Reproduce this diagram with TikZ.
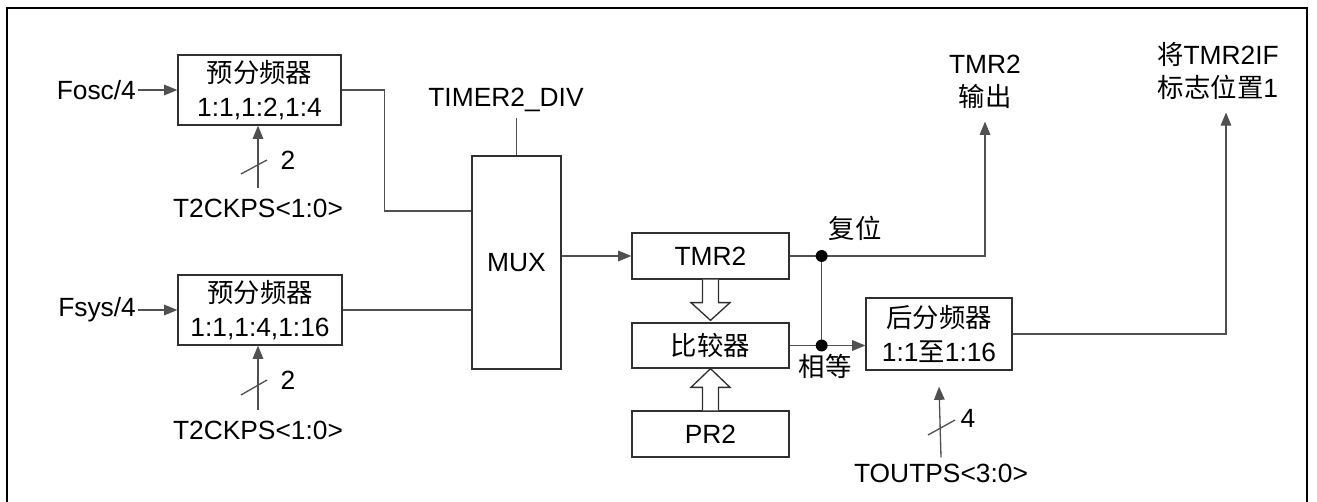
\documentclass[tikz,border=0pt]{standalone}
\usepackage{fontspec}
\setmainfont{Liberation Sans}
\newfontfamily\cjk{Noto Sans CJK SC}
\usetikzlibrary{arrows.meta,calc}
\definecolor{WireGray}{HTML}{505050}
\definecolor{BoxGray}{HTML}{303030}
\newcommand{\zh}[1]{{\cjk #1}}

\begin{document}
\begin{tikzpicture}[>={Triangle[length=7.5pt,width=6pt]},x=0.02cm,y=-0.02cm,
    font=\fontsize{15}{19}\selectfont,
    wire/.style={WireGray,line width=0.75pt},
    blk/.style={draw=BoxGray,line width=0.75pt,fill=white,inner sep=0pt,align=center},
    hollow/.style={draw=BoxGray,line width=0.75pt,fill=white},
    tag/.style={align=center,inner sep=7pt}]
  \useasboundingbox (0,0) rectangle (1317,502);
  \draw[line width=0.75pt] (7,502) -- (7,8) -- (1307,8) -- (1307,502);

  % prescalers
  \node[blk,minimum width=3.26cm,minimum height=1.4cm] (pre1) at (259.5,90) {\zh{预分频器}\\1:1,1:2,1:4};
  \node[blk,minimum width=3.28cm,minimum height=1.4cm] (pre2) at (260,310) {\zh{预分频器}\\1:1,1:4,1:16};
  \node[anchor=east,inner sep=1pt] (fosc) at (138,90) {Fosc/4};
  \node[anchor=east,inner sep=1pt] (fsys) at (138,310) {Fsys/4};
  \draw[wire,->] (fosc.east) -- (pre1.west);
  \draw[wire,->] (fsys.east) -- (pre2.west);
  \node (ckps1) at (258,208) {T2CKPS<1:0>};
  \node (ckps2) at (258,430) {T2CKPS<1:0>};
  \draw[wire,->] ([yshift=2.5pt]ckps1.north) -- (ckps1.north |- pre1.south);
  \draw[wire,->] ([yshift=2.5pt]ckps2.north) -- (ckps2.north |- pre2.south);
  \draw[wire] (241,174) -- (267,160);
  \node at (288,160) {2};
  \draw[wire] (241,395) -- (267,380);
  \node at (288,380) {2};

  % selector
  \node[blk,minimum width=1.78cm,minimum height=4.26cm] (mux) at (516.5,262.5) {MUX};
  \node (div) at (506,100) {TIMER2\_DIV};
  \draw[wire] (mux.north) -- (mux.north |- div.south);
  \draw[wire] (pre1.east) -- ++(43,0) |- ($(mux.west)+(0,-51.5)$);
  \draw[wire] (pre2.east) -- (pre2.east -| mux.west);

  % timer core
  \node[blk,minimum width=3.14cm,minimum height=0.92cm] (tmr) at (710.5,256) {TMR2};
  \node[blk,minimum width=3.14cm,minimum height=0.9cm] (cmp) at (710.5,345.5) {\zh{比较器}};
  \node[blk,minimum width=3.14cm,minimum height=0.92cm] (pr2) at (710.5,434) {PR2};
  \draw[wire,->] (mux.east |- tmr.west) -- (tmr.west);
  \draw[hollow] ($(tmr.south)+(-8,0)$) -- ++(0,23) -- ++(-11.5,0) -- ($(cmp.north)+(0,-2)$)
    -- ($(tmr.south)+(19.5,23)$) -- ++(-11.5,0) -- ($(tmr.south)+(8,0)$);
  \draw[hollow] ($(pr2.north)+(-8,0)$) -- ++(0,-23) -- ++(-11.5,0) -- (cmp.south)
    -- ($(pr2.north)+(19.5,-23)$) -- ++(-11.5,0) -- ($(pr2.north)+(8,0)$);

  % outputs
  \node[blk,minimum width=2.92cm,minimum height=1.44cm] (post) at (939,334) {\zh{后分频器}\\1:1\zh{至}1:16};
  \node[tag] (tout) at (985,82) {TMR2\\\zh{输出}};
  \node[tag] (flag) at (1218,71) {\zh{将}TMR2IF\\\zh{标志位置}1};
  \node (rst) at (855,228) {\zh{复位}};
  \node (eq) at (825,366) {\zh{相等}};
  \coordinate (jr) at ($(tmr.east)+(32,0)$);
  \coordinate (je) at ($(cmp.east)+(32,0)$);
  \draw[wire] (jr) -- (je);
  \draw[wire,->] (tmr.east) -- (jr) -| (tout.south);
  \draw[wire,->] (cmp.east) -- (cmp.east -| post.west);
  \fill (jr) circle (3.4pt);
  \fill (je) circle (3.4pt);
  \draw[wire,->] (post.east) -| ($(flag.south)+(8,0)$);
  \node (toutps) at (941,473) {TOUTPS<3:0>};
  \draw[wire,->] (toutps.north) -- ($(post.south)+(0,16)$);
  \draw[wire] (928,435) -- (955,420);
  \node at (968,418) {4};
\end{tikzpicture}
\end{document}
